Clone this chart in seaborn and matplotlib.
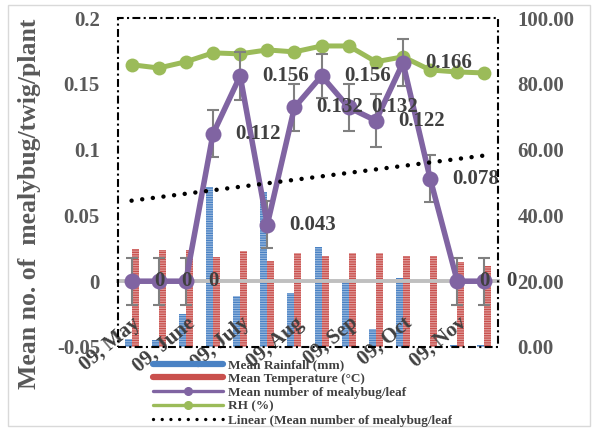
import numpy as np
import pandas as pd
import matplotlib
matplotlib.use("Agg")
import matplotlib.pyplot as plt
import seaborn as sns
from matplotlib.lines import Line2D
from matplotlib.patches import Rectangle
from matplotlib.ticker import FuncFormatter, FormatStrFormatter
from matplotlib.transforms import Bbox, TransformedBbox

# ---- data -----------------------------------------------------------------
months = ["09, May", "09, June", "09, July", "09, Aug", "09, Sep", "09, Oct", "09, Nov"]
fortnight = list(range(14))
rainfall_mm = [2.4, 2.0, 10.0, 48.5, 15.5, 47.0, 16.5, 30.3, 19.7, 5.5, 21.0, 0.0, 0.5, 0.5]
temperature_c = [29.7, 29.4, 29.4, 27.3, 29.1, 26.1, 28.6, 27.7, 28.6, 28.6, 27.6, 27.6, 25.8, 24.5]
rh_pct = [85.8, 84.8, 86.7, 89.4, 89.1, 90.3, 89.7, 91.5, 91.5, 86.7, 88.2, 84.2, 83.6, 83.3]
mealybug = [0, 0, 0, 0.112, 0.156, 0.043, 0.132, 0.156, 0.132, 0.122, 0.166, 0.078, 0, 0]
mealybug_err = [0.018, 0.018, 0.018, 0.018, 0.018, 0.018, 0.018,
                0.017, 0.018, 0.020, 0.018, 0.018, 0.018, 0.018]

rain_label = "Mean Rainfall (mm)"
temp_label = "Mean Temperature (°C)"
bug_label = "Mean number of mealybug/leaf"
rh_label = "RH (%)"
trend_label = "Linear (Mean number of mealybug/leaf)"

weather = pd.DataFrame({
    "fortnight": fortnight * 2,
    "value": rainfall_mm + temperature_c,
    "series": [rain_label] * len(fortnight) + [temp_label] * len(fortnight),
})

# ---- style ----------------------------------------------------------------
sns.set_style("white")
plt.rcParams["font.family"] = ["Liberation Serif", "DejaVu Serif"]
plt.rcParams["font.weight"] = "bold"
plt.rcParams["hatch.linewidth"] = 0.8

BLUE = "#4A82C4"
RED = "#C9504D"
PURPLE = "#8064A2"
GREEN = "#9BBB59"
AXIS_GRAY = "#595959"
LABEL_GRAY = "#404040"

fig = plt.figure(figsize=(5.92, 4.28), dpi=100)
fig.patch.set_facecolor("white")

ax_bug = fig.add_axes([118 / 592, 1 - 347 / 428, 380 / 592, 329 / 428])
ax_env = ax_bug.twinx()
ax_env.set_zorder(0)
ax_bug.set_zorder(1)
ax_bug.patch.set_visible(False)
ax_env.patch.set_facecolor("white")

# ---- weather bars and RH on the right-hand scale ---------------------------
sns.barplot(data=weather, x="fortnight", y="value", hue="series",
            palette=[BLUE, RED], width=0.52, gap=0, dodge=True,
            saturation=1, linewidth=0, legend=False, ax=ax_env)
for bar in ax_env.patches:
    bar.set_hatch("-------")
    bar.set_edgecolor((1, 1, 1, 0.45))
    bar.set_linewidth(0)

sns.lineplot(x=fortnight, y=rh_pct, ax=ax_env, color=GREEN, linewidth=3.6,
             marker="o", markersize=10, markeredgecolor=GREEN,
             markeredgewidth=0, zorder=3)

# ---- mealybug counts on the left-hand scale --------------------------------
ax_bug.errorbar(fortnight, mealybug, yerr=mealybug_err, fmt="none",
                ecolor="#808080", elinewidth=1.5, capsize=4.5, capthick=1.5,
                zorder=3)
sns.lineplot(x=fortnight, y=mealybug, ax=ax_bug, color=PURPLE, linewidth=4,
             marker="o", markersize=11.5, markeredgecolor=PURPLE,
             markeredgewidth=0, zorder=4)
sns.regplot(x=fortnight, y=mealybug, ax=ax_bug, scatter=False, ci=None,
            truncate=True,
            line_kws=dict(color="black", linewidth=3.2,
                          linestyle=(0, (0.01, 2.4)), dash_capstyle="round",
                          zorder=5))

for i, v in zip(fortnight, mealybug):
    ax_bug.annotate(f"{v:g}", (i, v), xytext=(16, 0), textcoords="offset points",
                    ha="left", va="center", fontsize=15, fontweight="bold",
                    color=LABEL_GRAY, annotation_clip=False, zorder=6)

# ---- axes ------------------------------------------------------------------
ax_bug.set_xlim(-0.5, 13.5)
ax_bug.set_ylim(-0.05, 0.2)
ax_env.set_ylim(0, 100)

ax_bug.yaxis.tick_left()
ax_env.yaxis.tick_right()
ax_bug.set_yticks([-0.05, 0, 0.05, 0.1, 0.15, 0.2])
ax_bug.yaxis.set_major_formatter(FuncFormatter(lambda v, _: f"{v:g}"))
ax_env.set_yticks(range(0, 101, 20))
ax_env.yaxis.set_major_formatter(FormatStrFormatter("%.2f"))
ax_bug.tick_params(axis="y", length=0, pad=13, labelsize=15, labelcolor=AXIS_GRAY)
ax_env.tick_params(axis="y", length=0, pad=14, labelsize=15, labelcolor=AXIS_GRAY)

ax_bug.set_xticks(fortnight[::2], months)
ax_bug.tick_params(axis="x", length=0, pad=23, labelsize=15,
                   labelcolor=LABEL_GRAY, labelrotation=40)

for name in ("left", "right", "top"):
    ax_bug.spines[name].set_visible(False)
ax_bug.spines["bottom"].set_position(("data", 0))
ax_bug.spines["bottom"].set_color("#BFBFBF")
ax_bug.spines["bottom"].set_linewidth(2.8)
for sp in ax_env.spines.values():
    sp.set_visible(False)

ax_bug.set_xlabel("")
ax_bug.set_ylabel("")
ax_env.set_xlabel("")
ax_env.set_ylabel("")

# dash-dot plot-area frame
ax_bug.add_patch(Rectangle((0, 0), 1, 1, transform=ax_bug.transAxes, fill=False,
                           edgecolor="black", linewidth=1.5,
                           linestyle=(0, (3.8, 1.6, 1, 1.6)), clip_on=False,
                           zorder=7))

fig.text(30 / 592, 1 - 204 / 428, "Mean no. of  mealybug/twig/plant",
         rotation=90, ha="center", va="center", fontsize=18.5,
         fontweight="bold", color=AXIS_GRAY)

# ---- legend ------------------------------------------------------------------
handles = [
    Line2D([], [], color=BLUE, linewidth=4.5),
    Line2D([], [], color=RED, linewidth=4.5),
    Line2D([], [], color=PURPLE, linewidth=2.4, marker="o", markersize=5.5),
    Line2D([], [], color=GREEN, linewidth=2.4, marker="o", markersize=5.5),
    Line2D([], [], color="black", linewidth=2.4, linestyle=(0, (0.01, 2.6)),
           dash_capstyle="round"),
]
labels = [rain_label, temp_label, bug_label, rh_label, trend_label]
leg = fig.legend(handles, labels, loc="upper left",
                 bbox_to_anchor=(153 / 592, 1 - 359 / 428), frameon=False,
                 prop=dict(size=9.5, weight="bold"), handlelength=5.3,
                 handletextpad=0.4, labelspacing=0.12, borderpad=0,
                 borderaxespad=0, numpoints=1)
clip = TransformedBbox(Bbox([[0, 0], [452 / 592, 1]]), fig.transFigure)
for t in leg.get_texts():
    t.set_color(LABEL_GRAY)
    t.set_clip_on(True)
    t.set_clip_box(clip)

# light chart border
fig.add_artist(Rectangle((8 / 592, 2 / 428), 582 / 592, 421 / 428,
                         transform=fig.transFigure, fill=False,
                         edgecolor="#D9D9D9", linewidth=1))

# rotated month labels hang from the zero line, ending at their fortnight
for lab in ax_bug.get_xticklabels():
    lab.set_fontweight("bold")
    lab.set_horizontalalignment("right")
    lab.set_rotation_mode("anchor")
for lab in ax_bug.get_yticklabels() + ax_env.get_yticklabels():
    lab.set_fontweight("bold")

fig.savefig("out.png", dpi=100)
